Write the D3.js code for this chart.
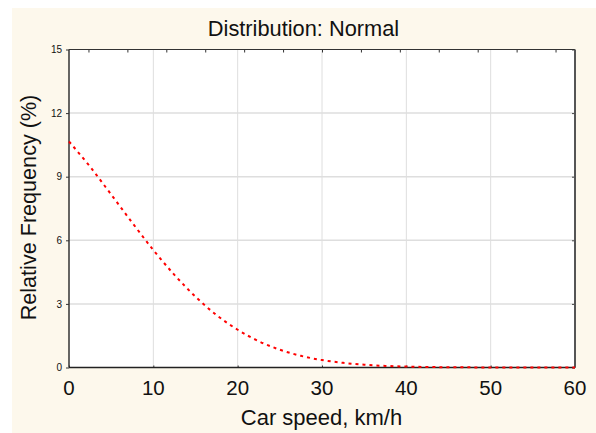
<!DOCTYPE html>
<html>
<head>
<meta charset="utf-8">
<script src="https://cdn.jsdelivr.net/npm/d3@7"></script>
<style>
  body { margin: 0; background: #fff; }
  svg { display: block; font-family: "Liberation Sans", Arial, sans-serif; }
</style>
</head>
<body>
<svg id="chart" width="596" height="433"></svg>
<script>
// values (speed km/h -> relative frequency %)
const speeds = [0, 2.5, 5, 7.5, 10, 12.5, 15, 17.5, 20, 22.5, 25, 27.5, 30, 32.5, 35, 37.5, 40, 45, 50, 55, 60];
const freqs = [10.66, 9.47, 8.16, 6.83, 5.54, 4.37, 3.34, 2.47, 1.78, 1.24, 0.84, 0.55, 0.35, 0.22, 0.13, 0.076, 0.044, 0.013, 0.003, 0.0005, 0];
const xTicks = [0, 10, 20, 30, 40, 50, 60];
const yTicks = [0, 3, 6, 9, 12, 15];
// small tick marks along the top edge (bin centres of 13 bins over 0-60)
const topTicks = d3.range(13).map(i => (i + 0.5) * 60 / 13);

const svg = d3.select('#chart');
const margin = { left: 69, right: 21, top: 49.5, bottom: 65.5 };
const W = 596, H = 433;

svg.append('rect').attr('x', 12).attr('y', 8).attr('width', W - 12).attr('height', H - 8)
  .attr('fill', '#fdf8ec');

const x = d3.scaleLinear().domain([0, 60]).range([margin.left, W - margin.right]);
const y = d3.scaleLinear().domain([0, 15]).range([H - margin.bottom, margin.top]);

svg.append('rect')
  .attr('x', x(0)).attr('y', y(15))
  .attr('width', x(60) - x(0)).attr('height', y(0) - y(15))
  .attr('fill', '#fff');

// grid
svg.append('g').selectAll('line').data(xTicks.slice(1, -1)).join('line')
  .attr('x1', d => x(d)).attr('x2', d => x(d))
  .attr('y1', y(0)).attr('y2', y(15))
  .attr('stroke', '#dedede').attr('stroke-width', 1);
svg.append('g').selectAll('line').data(yTicks.slice(1, -1)).join('line')
  .attr('x1', x(0)).attr('x2', x(60))
  .attr('y1', d => y(d)).attr('y2', d => y(d))
  .attr('stroke', '#dedede').attr('stroke-width', 1.5);

// axes
const leftAxis = svg.append('g').attr('transform', `translate(${x(0)},0)`)
  .call(d3.axisLeft(y).tickValues(yTicks).tickSize(3).tickPadding(4));
leftAxis.select('.domain').remove();
leftAxis.selectAll('text').attr('font-size', 10).attr('fill', '#111')
  .attr('font-family', '"Liberation Sans", Arial, sans-serif');
leftAxis.selectAll('line').attr('stroke', '#333');

const rightAxis = svg.append('g').attr('transform', `translate(${x(60)},0)`)
  .call(d3.axisLeft(y).tickValues(yTicks).tickSize(3).tickFormat(''));
rightAxis.select('.domain').remove();
rightAxis.selectAll('line').attr('stroke', '#444');

const topAxis = svg.append('g').attr('transform', `translate(0,${y(15)})`)
  .call(d3.axisBottom(x).tickValues(topTicks).tickSize(3).tickFormat(''));
topAxis.select('.domain').remove();
topAxis.selectAll('line').attr('stroke', '#333');

const bottomAxis = svg.append('g').attr('transform', `translate(0,${y(0)})`)
  .call(d3.axisTop(x).tickValues(xTicks).tickSize(2).tickFormat(''));
bottomAxis.select('.domain').remove();
bottomAxis.selectAll('line').attr('stroke', '#333');

svg.append('g').selectAll('text').data(xTicks).join('text')
  .attr('x', d => x(d)).attr('y', y(0) + 27)
  .attr('text-anchor', 'middle').attr('font-size', 20.5).attr('fill', '#111')
  .text(d => d);

// frame
svg.append('line').attr('x1', x(0)).attr('x2', x(0)).attr('y1', y(15)).attr('y2', y(0))
  .attr('stroke', '#333').attr('stroke-width', 1.5);
svg.append('line').attr('x1', x(0)).attr('x2', x(60)).attr('y1', y(15)).attr('y2', y(15))
  .attr('stroke', '#333').attr('stroke-width', 1);
svg.append('line').attr('x1', x(60)).attr('x2', x(60)).attr('y1', y(15)).attr('y2', y(0))
  .attr('stroke', '#555').attr('stroke-width', 2);
svg.append('line').attr('x1', x(0)).attr('x2', x(60)).attr('y1', y(0)).attr('y2', y(0))
  .attr('stroke', '#222').attr('stroke-width', 1.5);

// curve
const line = d3.line().x((d, i) => x(speeds[i])).y(d => y(d)).curve(d3.curveMonotoneX);
svg.append('path').datum(freqs)
  .attr('d', line)
  .attr('fill', 'none').attr('stroke', '#ff0000').attr('stroke-width', 2)
  .attr('stroke-dasharray', '3,4');

// titles
svg.append('text').attr('x', 303.5).attr('y', 36).attr('text-anchor', 'middle')
  .attr('font-size', 21.8).attr('fill', '#111').text('Distribution: Normal');
svg.append('text').attr('x', 321.5).attr('y', 425).attr('text-anchor', 'middle')
  .attr('font-size', 22).attr('fill', '#111').text('Car speed, km/h');
svg.append('text').attr('transform', `translate(35.5,${y(7.5) - 1}) rotate(-90)`)
  .attr('text-anchor', 'middle').attr('font-size', 21.6).attr('fill', '#111')
  .text('Relative Frequency (%)');
</script>
</body>
</html>
